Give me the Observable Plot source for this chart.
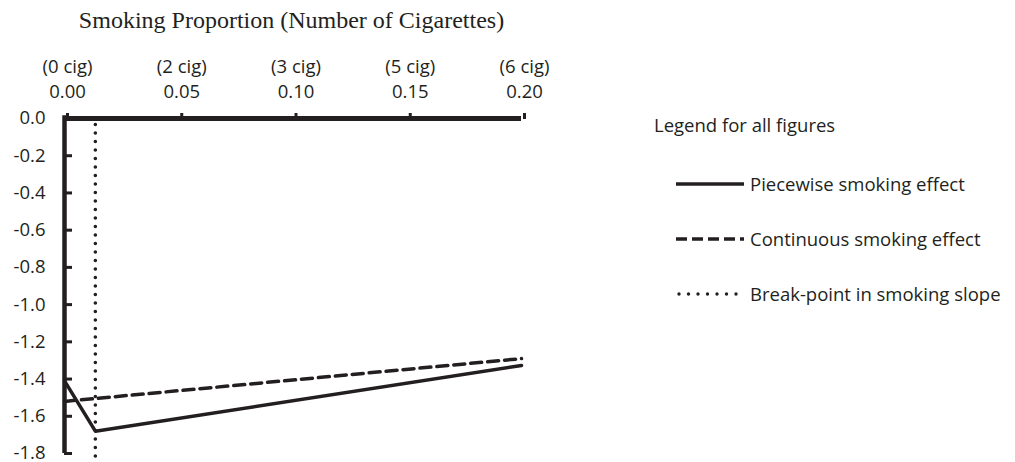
<!DOCTYPE html>
<html>
<head>
<meta charset="utf-8">
<script src="https://cdn.jsdelivr.net/npm/d3@7"></script>
<script src="https://cdn.jsdelivr.net/npm/@observablehq/plot@0.6"></script>
<style>
  html, body { margin: 0; padding: 0; background: #fff; }
  #wrap { position: relative; width: 1015px; height: 462px; }
  #title { width: 583px; height: 36px; line-height: 40px; text-align: center; white-space: nowrap;
           font-family: "Liberation Serif", "DejaVu Serif", serif; font-size: 24px; color: #231f20; }
  #chart svg { display: block; overflow: visible; }
  #legend { position: absolute; left: 654px; top: 110px; font-family: "Open Sans", Lato, sans-serif;
            font-size: 18.5px; color: #231f20; }
  #legend .head { height: 30px; line-height: 30px; margin-bottom: 16px; }
  #legend .item { display: flex; align-items: center; height: 55px; margin-left: 22px; }
  #legend svg { margin-right: 6px; }
</style>
</head>
<body>
<div id="wrap">
  <div id="title">Smoking Proportion (Number of Cigarettes)</div>
  <div id="chart"></div>
  <div id="legend"></div>
</div>
<script>
// ---- data ----
const xTicks = [0, 0.05, 0.10, 0.15, 0.20];
const cigLabels = ["(0 cig)", "(2 cig)", "(3 cig)", "(5 cig)", "(6 cig)"];
const yTicks = [0, -0.2, -0.4, -0.6, -0.8, -1.0, -1.2, -1.4, -1.6, -1.8];
const breakPoint = 0.0135;
const piecewiseX = [0, 0.0135, 0.20];
const piecewiseY = [-1.41, -1.68, -1.327];
const continuousX = [0, 0.20];
const continuousY = [-1.52, -1.29];
const legendLabels = ["Piecewise smoking effect", "Continuous smoking effect", "Break-point in smoking slope"];
const legendTitle = "Legend for all figures";

const ink = "#231f20";
const piecewise = piecewiseX.map((x, i) => ({x, y: piecewiseY[i]}));
const continuous = continuousX.map((x, i) => ({x, y: continuousY[i]}));

const chart = Plot.plot({
  width: 1015,
  height: 426,
  marginLeft: 64,
  marginRight: 494,
  marginTop: 82,
  marginBottom: 9,
  style: {fontFamily: "'Open Sans', Lato, sans-serif", fontSize: "18.5px", color: ink, background: "white", overflow: "visible"},
  x: {domain: [0, 0.2]},
  y: {domain: [-1.8, 0]},
  marks: [
    Plot.ruleX([breakPoint], {y1: -0.035, y2: -1.86, stroke: ink, strokeWidth: 3.6, strokeDasharray: "0 8.5", strokeLinecap: "round", clip: false}),
    Plot.line(continuous, {x: "x", y: "y", stroke: ink, strokeWidth: 3.5, strokeDasharray: "11 6"}),
    Plot.line(piecewise, {x: "x", y: "y", stroke: ink, strokeWidth: 3.5}),
    Plot.ruleY([0], {stroke: ink, strokeWidth: 5}),
    Plot.ruleX([0], {y1: 0.015, y2: -1.8, stroke: ink, strokeWidth: 4.5}),
    Plot.axisX({anchor: "top", ticks: xTicks, tickSize: 6, tickPadding: 15, strokeWidth: 3, stroke: ink,
      tickFormat: (d, i) => `${cigLabels[i]}\n${d.toFixed(2)}`, lineHeight: 1.3, dx: 3, fontSize: 18.5, fill: ink, label: null}),
    Plot.axisY({ticks: yTicks, tickSize: -8, tickPadding: 27, strokeWidth: 3, stroke: ink,
      tickFormat: d => d.toFixed(1), fontSize: 18.5, fill: ink, label: null})
  ]
});
document.getElementById("chart").appendChild(chart);

// legend
const legend = d3.select("#legend");
legend.append("div").attr("class", "head").text(legendTitle);
const styles = [
  {dash: null, cap: "butt", w: 3.5},
  {dash: "11 5", cap: "butt", w: 3.5},
  {dash: "0 9.5", cap: "round", w: 3.4}
];
legendLabels.forEach((lab, i) => {
  const item = legend.append("div").attr("class", "item");
  const s = item.append("svg").attr("width", 68).attr("height", 10);
  s.append("line").attr("x1", i === 2 ? 3 : 0).attr("x2", i === 2 ? 66 : 68).attr("y1", 5).attr("y2", 5)
    .attr("stroke", ink).attr("stroke-width", styles[i].w)
    .attr("stroke-dasharray", styles[i].dash).attr("stroke-linecap", styles[i].cap);
  item.append("span").text(lab);
});
</script>
</body>
</html>
